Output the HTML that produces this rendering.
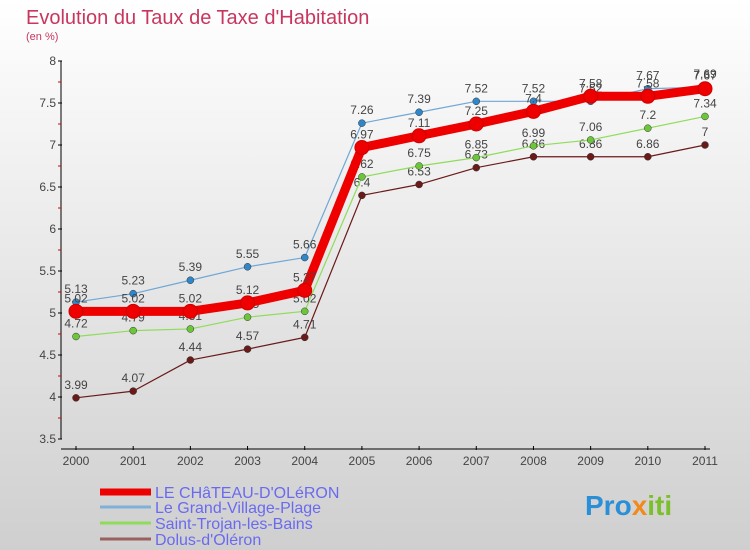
<!DOCTYPE html>
<html><head><meta charset="utf-8"><style>
body{margin:0}
#c{width:750px;height:550px;position:relative;overflow:hidden;background:linear-gradient(#ffffff,#cfcfcf);font-family:"Liberation Sans",sans-serif}
</style></head><body>
<div id="c">
<svg id="s" width="750" height="550" xmlns="http://www.w3.org/2000/svg">
<text x="26" y="24" font-size="20" fill="#c8365f">Evolution du Taux de Taxe d'Habitation</text>
<text x="26" y="40" font-size="11" fill="#c8365f">(en %)</text>
<g id="axes"></g><g id="series"></g><g id="legend"></g>
<text x="585" y="515" font-size="28" font-weight="bold" fill="#2a8fd6">Pro<tspan fill="#f08a1c">x</tspan><tspan fill="#7bbf2a">iti</tspan></text>
</svg>
</div>
<script>
const years=[2000,2001,2002,2003,2004,2005,2006,2007,2008,2009,2010,2011];
const yTicks=[3.5,4,4.5,5,5.5,6,6.5,7,7.5,8];
const names=["LE CHâTEAU-D'OLéRON","Le Grand-Village-Plage","Saint-Trojan-les-Bains","Dolus-d'Oléron"];
const chateau=[5.02,5.02,5.02,5.12,5.27,6.97,7.11,7.25,7.4,7.58,7.58,7.67];
const grandVillage=[5.13,5.23,5.39,5.55,5.66,7.26,7.39,7.52,7.52,7.52,7.67,7.69];
const saintTrojan=[4.72,4.79,4.81,4.95,5.02,6.62,6.75,6.85,6.99,7.06,7.2,7.34];
const dolus=[3.99,4.07,4.44,4.57,4.71,6.4,6.53,6.73,6.86,6.86,6.86,7];
const NS="http://www.w3.org/2000/svg";
const X=i=>76+i*(705-76)/11;
const Y=v=>61+(8-v)*84;
function mk(t,a,p){const e=document.createElementNS(NS,t);for(const k in a)e.setAttribute(k,a[k]);p.appendChild(e);return e;}
const ax=document.getElementById('axes');
let e=mk('line',{x1:61,y1:61,x2:61,y2:439,stroke:'#000'},ax);


e=mk('line',{x1:61,y1:449,x2:710,y2:449,stroke:'#000'},ax);


yTicks.forEach(v=>{
 mk('line',{x1:58,y1:Y(v),x2:62,y2:Y(v),stroke:'#000'},ax);
 e=mk('text',{x:56,y:Y(v)+4,'font-size':12,fill:'#444','text-anchor':'end'},ax);e.textContent=v;
 
 
 if(v<8){mk('line',{x1:58,y1:Y(v+0.25),x2:61,y2:Y(v+0.25),stroke:'#d00'},ax);}
});
years.forEach((y,i)=>{
 mk('line',{x1:X(i),y1:446,x2:X(i),y2:450,stroke:'#000'},ax);
 e=mk('text',{x:X(i),y:465,'font-size':12,fill:'#444','text-anchor':'middle'},ax);e.textContent=y;
 
 
});
const sg=document.getElementById('series');
const defs=[
 {d:dolus,c:'#6b1a1a',w:1.2,r:3.5,n:'dolus-line'},
 {d:saintTrojan,c:'#8fdc5a',w:1.2,r:3.5,pc:'#6cc63a',n:'saint-trojan-line'},
 {d:grandVillage,c:'#6fa7d6',w:1.2,r:3.5,pc:'#2f86c8',n:'grand-village-line'},
 {d:chateau,c:'#ee0000',w:9,r:7,n:'chateau-line'}];
defs.forEach(s=>{
 const g=mk('g',{},sg);
 
 
 mk('polyline',{points:s.d.map((v,i)=>X(i)+','+Y(v)).join(' '),fill:'none',stroke:s.c,'stroke-width':s.w,'stroke-linejoin':'round'},g);
 s.d.forEach((v,i)=>{
  const p=mk('circle',{cx:X(i),cy:Y(v),r:s.r,fill:s.pc||s.c,stroke:s.w>5?'#c00':'#333','stroke-width':s.w>5?1:0.5},g);
  
  
  const t=mk('text',{x:X(i),y:Y(v)-9,'font-size':12,fill:'#444','text-anchor':'middle'},g);t.textContent=v;
  
  
 });
});
const lg=document.getElementById('legend');
const lc=['#ee0000','#7fb0d8','#8fdc5a','#9a6060'],lw=[7,3,3,3],ly=[492,507,523,539];
names.forEach((n,i)=>{
 const g=mk('g',{},lg);
 
 
 mk('line',{x1:100,y1:ly[i],x2:151,y2:ly[i],stroke:lc[i],'stroke-width':lw[i]},g);
 const t=mk('text',{x:155,y:ly[i]+6,'font-size':16,fill:'#6a6af0'},g);t.textContent=n;
});
</script>
</body></html>
